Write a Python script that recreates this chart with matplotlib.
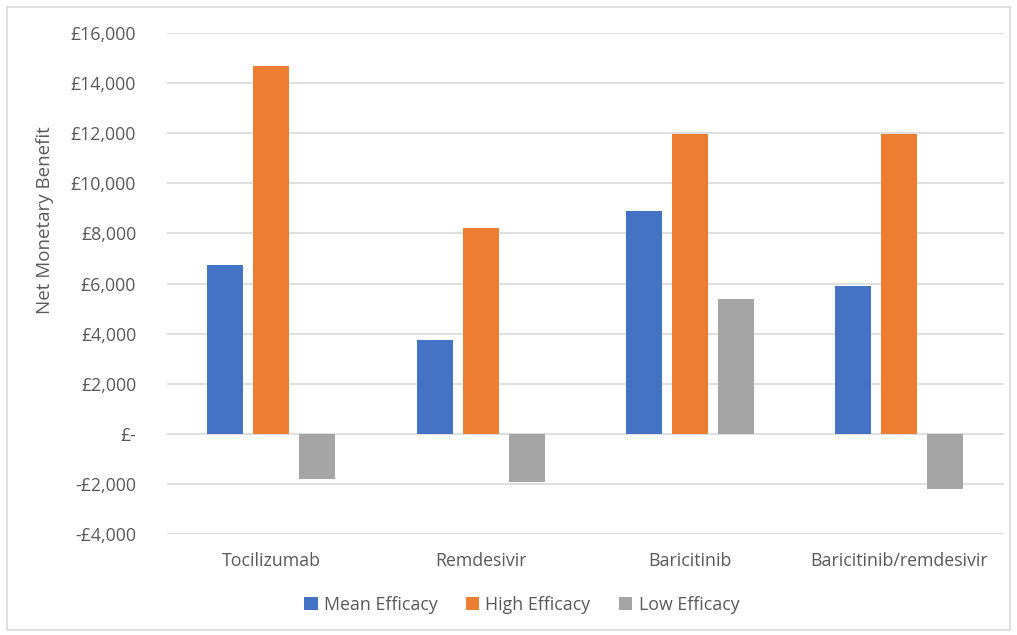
import matplotlib.pyplot as plt
import matplotlib.ticker as mticker
from matplotlib.patches import Rectangle
import numpy as np

treatments = ["Tocilizumab", "Remdesivir", "Baricitinib", "Baricitinib/remdesivir"]
series_names = ["Mean Efficacy", "High Efficacy", "Low Efficacy"]
mean_efficacy = [6730, 3750, 8910, 5920]
high_efficacy = [14670, 8230, 11960, 11960]
low_efficacy = [-1800, -1930, 5370, -2190]

colours = ["#4472C4", "#ED7D31", "#A5A5A5"]
text_grey = "#595959"
fs = 12.8


def money(v, pos=None):
    if v == 0:
        return "£-"
    if v < 0:
        return "-£{:,.0f}".format(-v)
    return "£{:,.0f}".format(v)


def main():
    plt.rcParams["font.family"] = ["Open Sans", "DejaVu Sans"]
    fig = plt.figure(figsize=(10.17, 6.35), dpi=100)
    ax = fig.add_axes([0.164, 0.159, 0.823, 0.789])

    # light frame round the whole chart area
    fig.patches.append(Rectangle((0.007, 0.008), 0.986, 0.981, transform=fig.transFigure,
                                 fill=False, edgecolor="#D9D9D9", linewidth=1.2))

    x = np.arange(len(treatments))
    width = 0.172
    step = 0.22
    for i, (name, vals) in enumerate(zip(series_names, [mean_efficacy, high_efficacy, low_efficacy])):
        ax.bar(x + (i - 1) * step, vals, width, color=colours[i], label=name, zorder=3)

    ax.set_xlim(-0.5, len(treatments) - 0.5)
    ax.set_ylim(-4000, 16000)
    ax.yaxis.set_major_locator(mticker.MultipleLocator(2000))
    ax.yaxis.set_major_formatter(mticker.FuncFormatter(money))
    ax.yaxis.grid(True, color="#D9D9D9", linewidth=1.2)
    ax.set_axisbelow(True)
    for s in ax.spines.values():
        s.set_visible(False)
    ax.set_xticks(x)
    ax.set_xticklabels(treatments)
    ax.tick_params(axis="both", length=0, labelsize=fs, colors=text_grey)
    ax.tick_params(axis="x", pad=13)
    ax.tick_params(axis="y", pad=22)

    fig.text(0.044, 0.654, "Net Monetary Benefit", rotation=90, ha="center", va="center",
             fontsize=13.5, color=text_grey)

    leg = ax.legend(loc="center", ncol=3, frameon=False, fontsize=fs, handlelength=0.75,
                    handleheight=0.75, handletextpad=0.35, columnspacing=1.6)
    leg.set_bbox_to_anchor((0.513, 0.047), transform=fig.transFigure)
    for t in leg.get_texts():
        t.set_color(text_grey)

    fig.savefig("out.png", dpi=100)


if __name__ == "__main__":
    main()
